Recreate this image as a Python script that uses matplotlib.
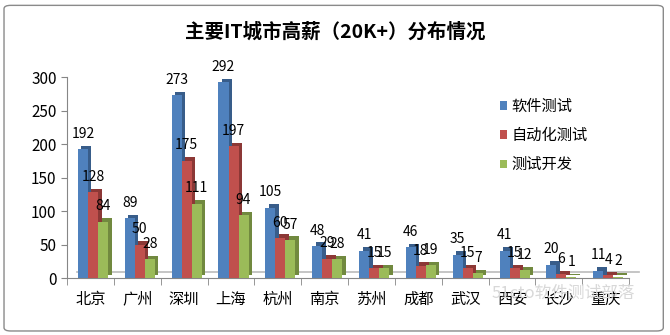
import matplotlib
matplotlib.use('Agg')
import matplotlib.pyplot as plt
import matplotlib.transforms as mtransforms
from matplotlib.patches import FancyBboxPatch

plt.rcParams['font.family'] = ['Noto Sans CJK SC', 'DejaVu Sans']

cities = ['北京', '广州', '深圳', '上海', '杭州', '南京', '苏州', '成都', '武汉', '西安', '长沙', '重庆']
series_names = ['软件测试', '自动化测试', '测试开发']
soft_test = [192, 89, 273, 292, 105, 48, 41, 46, 35, 41, 20, 11]
auto_test = [128, 50, 175, 197, 60, 29, 15, 18, 15, 15, 6, 4]
test_dev = [84, 28, 111, 94, 57, 28, 15, 19, 7, 12, 1, 2]

front = ['#4F81BD', '#C0504D', '#9BBB59']
side = ['#385D8A', '#8C3836', '#71893F']

fig = plt.figure(figsize=(6.7, 3.35), dpi=100)
ax = fig.add_axes([0.1, 0.17, 0.839, 0.60])

w = 0.214
shift = 0.055
depth = mtransforms.offset_copy(ax.transData, fig=fig, x=3.5, y=3.5, units='dots')
x = list(range(len(cities)))

for i, vals in enumerate([soft_test, auto_test, test_dev]):
    pos = [p + (i - 1) * w + shift for p in x]
    ax.bar(pos, vals, width=w, color=side[i], transform=depth, zorder=2 + i)
    ax.bar(pos, vals, width=w, color=front[i], label=series_names[i], zorder=2.5 + i)
    for p, v in zip(pos, vals):
        ax.annotate(str(v), (p, v), xytext=(0, 6), textcoords='offset points',
                    ha='center', va='bottom', fontsize=10, color='black',
                    zorder=10, annotation_clip=False)

ax.set_xlim(-0.5, len(cities) - 0.5)
ax.set_ylim(0, 300)
ax.set_yticks(range(0, 301, 50))
ax.set_xticks(x)
ax.set_xticklabels(cities, fontsize=11)
ax.set_xticks([p - 0.5 for p in x] + [len(cities) - 0.5], minor=True)
ax.tick_params(axis='x', which='major', length=0, pad=9)
ax.tick_params(axis='x', which='minor', length=5, color='#868686')
ax.tick_params(axis='y', length=4, color='#868686', labelsize=11)
for s in ['top', 'right']:
    ax.spines[s].set_visible(False)
for s in ['left', 'bottom']:
    ax.spines[s].set_color('#868686')

# floor back edge
floor = mtransforms.offset_copy(ax.transData, fig=fig, x=10, y=6, units='dots')
ax.plot([-0.5, len(cities) - 0.5], [0, 0], color='#bbbbbb', lw=1.2, transform=floor, zorder=1, clip_on=False)

ax.legend(loc='upper left', bbox_to_anchor=(0.745, 0.965), frameon=False, fontsize=11,
          handlelength=0.5, handleheight=0.5, handletextpad=0.3, labelspacing=0.8)

fig.text(0.5, 0.905, '主要IT城市高薪（20K+）分布情况', ha='center', va='center',
         fontsize=14, fontweight='bold')
fig.text(0.84, 0.125, '51cto软件测试部落', ha='center', va='center', fontsize=12,
         color='#d8d8d8', zorder=0)

fig.patches.append(FancyBboxPatch((0.006, 0.012), 0.984, 0.972, boxstyle='round,pad=0,rounding_size=0.01',
                                  transform=fig.transFigure, fill=False, edgecolor='#8a8a8a', lw=1))

fig.savefig('out.png', dpi=100)
